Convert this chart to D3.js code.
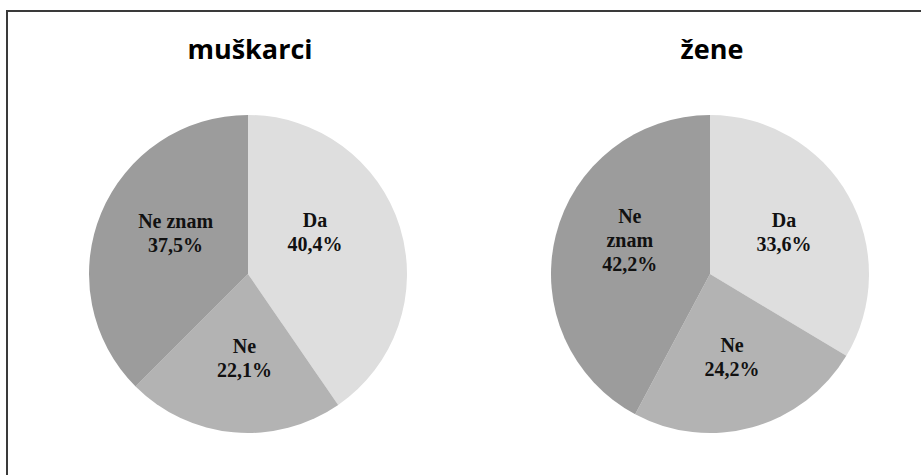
<!DOCTYPE html>
<html>
<head>
<meta charset="utf-8">
<script src="https://cdn.jsdelivr.net/npm/d3@7"></script>
<style>
  body { margin: 0; background: #fff; }
  svg { display: block; }
</style>
</head>
<body>
<div id="chart"></div>
<script>
// Data
const categories = ["Da", "Ne", "Ne znam"];
const muskarciValues = [40.4, 22.1, 37.5];
const zeneValues = [33.6, 24.2, 42.2];
const muskarciLabels = [["Da"], ["Ne"], ["Ne znam"]];
const zeneLabels = [["Da"], ["Ne"], ["Ne", "znam"]];
const titles = ["muškarci", "žene"];

const width = 921;
const height = 475;
const radius = 159;
const centers = [{ x: 248, y: 274 }, { x: 710, y: 274 }];
// small label nudges (like Excel's "best fit" placement), per pie then per slice
const nudges = [
  [[-12, -16], [4, 3], [4, -8]],
  [[2, 0], [0, 4], [0, -13]],
];

const color = d3.scaleOrdinal()
  .domain(categories)
  .range(["#dedede", "#b3b3b3", "#9c9c9c"]);

const fmt = d3.formatLocale({ decimal: ",", thousands: ".", grouping: [3], currency: ["", ""] })
  .format(".1f");

const svg = d3.select("#chart")
  .append("svg")
  .attr("width", width)
  .attr("height", height);

// frame: only the top and left edges are visible
svg.append("path")
  .attr("d", "M7,475 V11 H921")
  .attr("fill", "none")
  .attr("stroke", "#3a3a3a")
  .attr("stroke-width", 2);

const pie = d3.pie().sort(null).value((d) => d.value);
const arc = d3.arc().innerRadius(0).outerRadius(radius);
const labelArc = d3.arc().innerRadius(radius * 0.52).outerRadius(radius * 0.52);

function drawPie(i, values, labels) {
  const data = categories.map((c, j) => ({ name: c, value: values[j], lines: labels[j] }));
  const g = svg.append("g")
    .attr("transform", `translate(${centers[i].x},${centers[i].y})`);

  svg.append("text")
    .attr("x", centers[i].x + 2)
    .attr("y", 59)
    .attr("text-anchor", "middle")
    .style("font-family", "'Open Sans', sans-serif")
    .style("font-weight", "bold")
    .style("font-size", "27px")
    .text(titles[i]);

  const slices = pie(data);

  g.selectAll("path.slice")
    .data(slices)
    .enter()
    .append("path")
    .attr("class", "slice")
    .attr("d", arc)
    .attr("fill", (d) => color(d.data.name));

  const lineH = 24;
  const label = g.selectAll("text.label")
    .data(slices)
    .enter()
    .append("text")
    .attr("class", "label")
    .attr("text-anchor", "middle")
    .style("font-family", "'Liberation Serif', 'Times New Roman', serif")
    .style("font-weight", "bold")
    .style("font-size", "20px")
    .attr("fill", "#111")
    .attr("transform", (d, j) => {
      const [x, y] = labelArc.centroid(d);
      const n = d.data.lines.length + 1;
      const [nx, ny] = nudges[i][j];
      return `translate(${x + nx},${y - ((n - 1) * lineH) / 2 + 6 + ny})`;
    });

  label.selectAll("tspan")
    .data((d) => d.data.lines.concat([fmt(d.data.value) + "%"]))
    .enter()
    .append("tspan")
    .attr("x", 0)
    .attr("dy", (d, k) => (k === 0 ? 0 : lineH))
    .text((d) => d);
}

drawPie(0, muskarciValues, muskarciLabels);
drawPie(1, zeneValues, zeneLabels);
</script>
</body>
</html>
